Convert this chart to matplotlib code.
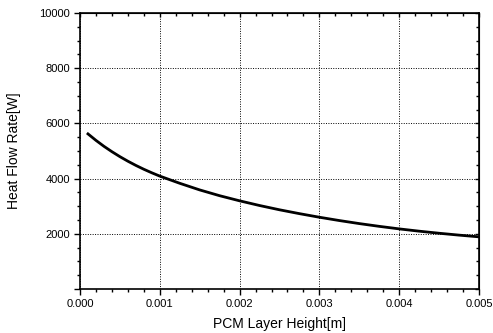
import matplotlib
matplotlib.use("Agg")
import matplotlib.pyplot as plt
from matplotlib.ticker import MultipleLocator, FormatStrFormatter, FuncFormatter

height_m = [0.0001, 0.0002, 0.0003, 0.0004, 0.0005, 0.0006, 0.0007, 0.0008, 0.0009,
            0.001, 0.00125, 0.0015, 0.00175, 0.002, 0.00225, 0.0025, 0.00275,
            0.003, 0.00325, 0.0035, 0.00375, 0.004, 0.00425, 0.0045, 0.00475, 0.005]
heat_flow_w = [5620, 5385, 5170, 4975, 4795, 4630, 4478, 4338, 4210,
               4090, 3830, 3590, 3380, 3195, 3025, 2870, 2730,
               2600, 2480, 2370, 2270, 2178, 2095, 2020, 1952, 1890]

plt.rcParams['font.family'] = ['Liberation Sans', 'DejaVu Sans']

fig = plt.figure(figsize=(4.93, 3.33), dpi=100)
ax = fig.add_axes([80/493, 1-289/333, 399/493, 276/333])

ax.plot(height_m, heat_flow_w, color='black', linewidth=2.0, zorder=3,
        solid_joinstyle='round')

ax.set_xlim(0, 0.005)
ax.set_ylim(0, 10000)
ax.xaxis.set_major_locator(MultipleLocator(0.001))
ax.xaxis.set_minor_locator(MultipleLocator(0.0002))
ax.yaxis.set_major_locator(MultipleLocator(2000))
ax.yaxis.set_minor_locator(MultipleLocator(500))
ax.xaxis.set_major_formatter(FormatStrFormatter('%.3f'))
ax.yaxis.set_major_formatter(FuncFormatter(lambda v, p: '' if abs(v) < 1e-9 else '%d' % v))

ax.grid(True, which='major', color='black', linestyle=(0, (1, 1.5)), linewidth=0.7)

ax.tick_params(which='major', direction='out', length=4, width=1, labelsize=8, pad=3)
ax.tick_params(which='minor', direction='out', length=2.5, width=1)

for s in ax.spines.values():
    s.set_linewidth(1.2)

secx = ax.secondary_xaxis('top')
secx.xaxis.set_major_locator(MultipleLocator(0.001))
secx.xaxis.set_minor_locator(MultipleLocator(0.0002))
secx.tick_params(which='major', direction='in', length=3, width=1, labeltop=False)
secx.tick_params(which='minor', direction='in', length=2, width=1)
secy = ax.secondary_yaxis('right')
secy.yaxis.set_major_locator(MultipleLocator(2000))
secy.yaxis.set_minor_locator(MultipleLocator(500))
secy.tick_params(which='major', direction='in', length=3, width=1, labelright=False)
secy.tick_params(which='minor', direction='in', length=2, width=1)

ax.set_xlabel('PCM Layer Height[m]', fontsize=10, labelpad=6)
ax.set_ylabel('Heat Flow Rate[W]', fontsize=10, labelpad=13)

fig.savefig('out.png', dpi=100)
